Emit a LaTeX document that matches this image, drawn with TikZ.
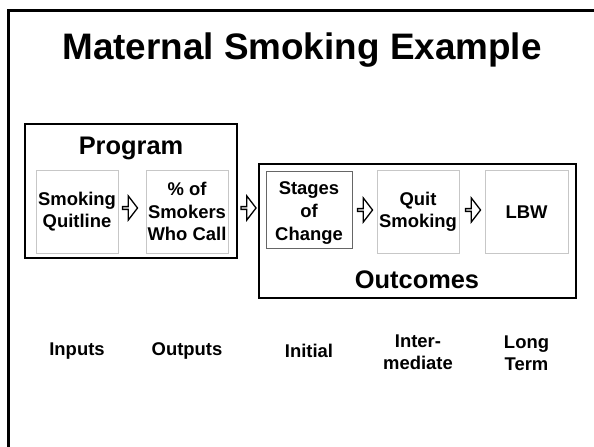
\documentclass[tikz,border=0pt]{standalone}
\usepackage{fontspec}
\setmainfont{Liberation Sans}
\usetikzlibrary{shapes.arrows}
\begin{document}
\begin{tikzpicture}[x=1bp,y=-1bp,
  groupbox/.style={draw=black,line width=2.6bp},
  stepbox/.style={draw=black!22,line width=0.8bp,minimum width=82bp,minimum height=83bp,
    align=center,inner sep=0pt,font=\bfseries\fontsize{18.5}{22.5}\selectfont},
  firstbox/.style={stepbox,draw=black!60,line width=1bp,font=\bfseries\fontsize{18.5}{23.5}\selectfont},
  flowarrow/.style={single arrow,draw=black,fill=white,line width=1.3bp,inner sep=0pt,
    minimum width=24bp,minimum height=15bp,single arrow head extend=5bp,single arrow tip angle=105},
  grouptitle/.style={font=\bfseries\fontsize{25.5}{30}\selectfont,inner sep=0pt},
  stagelabel/.style={font=\bfseries\fontsize{18.5}{22.5}\selectfont,align=center,inner sep=0pt}]
\useasboundingbox (0,0) rectangle (594,447);
% slide frame, open towards right and bottom
\draw[line width=3bp] (8.5,460) -- (8.5,10.5) -- (610,10.5);
\node[font=\bfseries\fontsize{37}{42}\selectfont,inner sep=0pt] (title) at (302,50) {Maternal Smoking Example};

% program group
\draw[groupbox] (25,124) rectangle (237,258);
\node[grouptitle] (prog) at (131,148) {Program};
\node[stepbox] (quitline) at (77,211.5) {Smoking\\Quitline};
\node[stepbox] (callers) at (187,211.5) {\% of\\Smokers\\Who Call};

% outcomes group
\draw[groupbox] (259,164) rectangle (576,298);
\node[grouptitle] (outc) at (417,280) {Outcomes};
\node[firstbox,minimum width=86bp,minimum height=77bp] (stages) at (309,210.5) {};
\node[font=\bfseries\fontsize{18.5}{23.5}\selectfont,align=center,inner sep=0pt] (stagestext) at (309,213) {Stages\\of\\Change};
\node[stepbox] (quit) at (418,212) {Quit\\Smoking};
\node[stepbox,minimum width=83bp] (lbw) at (526.5,212) {LBW};

% block arrows between steps
\node[flowarrow] (a1) at (129.5,208) {};
\node[flowarrow] (a2) at (248,208) {};
\node[flowarrow] (a3) at (364.5,210) {};
\node[flowarrow] (a4) at (472.5,210) {};

% stage labels
\node[stagelabel] (inputs) at (77,351) {Inputs};
\node[stagelabel] (outputs) at (187,351) {Outputs};
\node[stagelabel] (initial) at (309,351) {Initial};
\node[stagelabel] (inter) at (418,352) {Inter-\\mediate};
\node[stagelabel] (longterm) at (526.5,353) {Long\\Term};
\end{tikzpicture}
\end{document}
